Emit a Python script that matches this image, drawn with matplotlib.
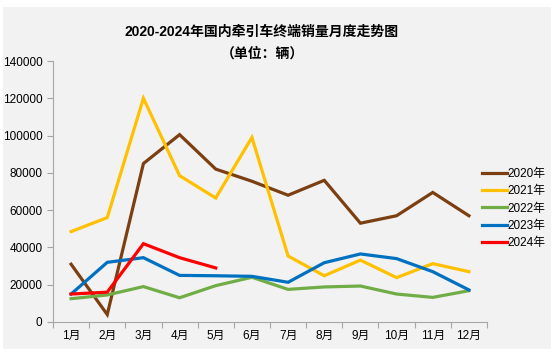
import matplotlib
matplotlib.use("Agg")
import matplotlib.pyplot as plt
from matplotlib.patches import Rectangle

plt.rcParams["font.family"] = ["Liberation Sans", "Noto Sans CJK SC", "DejaVu Sans"]

MONTHS = [f"{i}月" for i in range(1, 13)]
SALES_2020 = [31000, 4000, 85000, 100500, 82000, 75500, 68000, 76000, 53000, 57000, 69500, 57000]
SALES_2021 = [48500, 56000, 120000, 78500, 66500, 99000, 35400, 24800, 33200, 23800, 31300, 27000]
SALES_2022 = [12500, 14500, 19000, 13000, 19500, 24000, 17500, 18800, 19300, 15000, 13200, 16800]
SALES_2023 = [15000, 32000, 34500, 25000, 24800, 24500, 21300, 31800, 36500, 34000, 27000, 17200]
SALES_2024 = [15000, 16000, 42000, 34500, 29000]

SERIES = [
    ("2020年", SALES_2020, "#7b3f12"),
    ("2021年", SALES_2021, "#ffc000"),
    ("2022年", SALES_2022, "#70ad47"),
    ("2023年", SALES_2023, "#0070c0"),
    ("2024年", SALES_2024, "#ff0000"),
]

BG = "#f2f2f2"

fig = plt.figure(figsize=(5.58, 3.56), dpi=100)
fig.patch.set_facecolor("white")
# grey chart-area box, slightly inset from the picture edges
fig.patches.append(Rectangle((3 / 558, 1 - 349 / 356), 548 / 558, 342 / 356,
                             transform=fig.transFigure, facecolor=BG, edgecolor="none", zorder=-10))

ax = fig.add_axes([53 / 558, 1 - 322 / 356, 434 / 558, 261 / 356])
ax.set_facecolor(BG)

x = list(range(12))
for label, vals, color in SERIES:
    ax.plot(x[:len(vals)], vals, color=color, lw=2.3, label=label, solid_joinstyle="miter")

ax.set_xlim(-0.5, 11.5)
ax.set_ylim(0, 140000)
ax.set_yticks(range(0, 140001, 20000))
ax.set_xticks([i + 0.5 for i in range(-1, 12)], minor=False)
ax.set_xticklabels([])
ax.set_xticks(x, minor=True)
ax.set_xticklabels(MONTHS, minor=True)
ax.tick_params(axis="x", which="major", length=4, color="#a6a6a6")
ax.tick_params(axis="x", which="minor", length=0, labelsize=8.5, pad=6)
ax.tick_params(axis="y", length=4, color="#a6a6a6", labelsize=8.5, direction="out")

for side in ("top", "right"):
    ax.spines[side].set_visible(False)
for side in ("left", "bottom"):
    ax.spines[side].set_color("#a6a6a6")

title_x = 262 / 558
fig.text(title_x, 1 - 32 / 356, "2020-2024年国内牵引车终端销量月度走势图", ha="center", va="center",
         fontsize=10, fontweight="bold")
fig.text(title_x, 1 - 54 / 356, "（单位：辆）", ha="center", va="center", fontsize=10, fontweight="bold")

ax.legend(loc="upper left", bbox_to_anchor=(476 / 558, 1 - 162 / 356), bbox_transform=fig.transFigure,
          frameon=False, fontsize=8.5, handlelength=2.1, handletextpad=0.1, labelspacing=0.45,
          borderpad=0)

fig.savefig("out.png", dpi=100, facecolor=fig.get_facecolor())
